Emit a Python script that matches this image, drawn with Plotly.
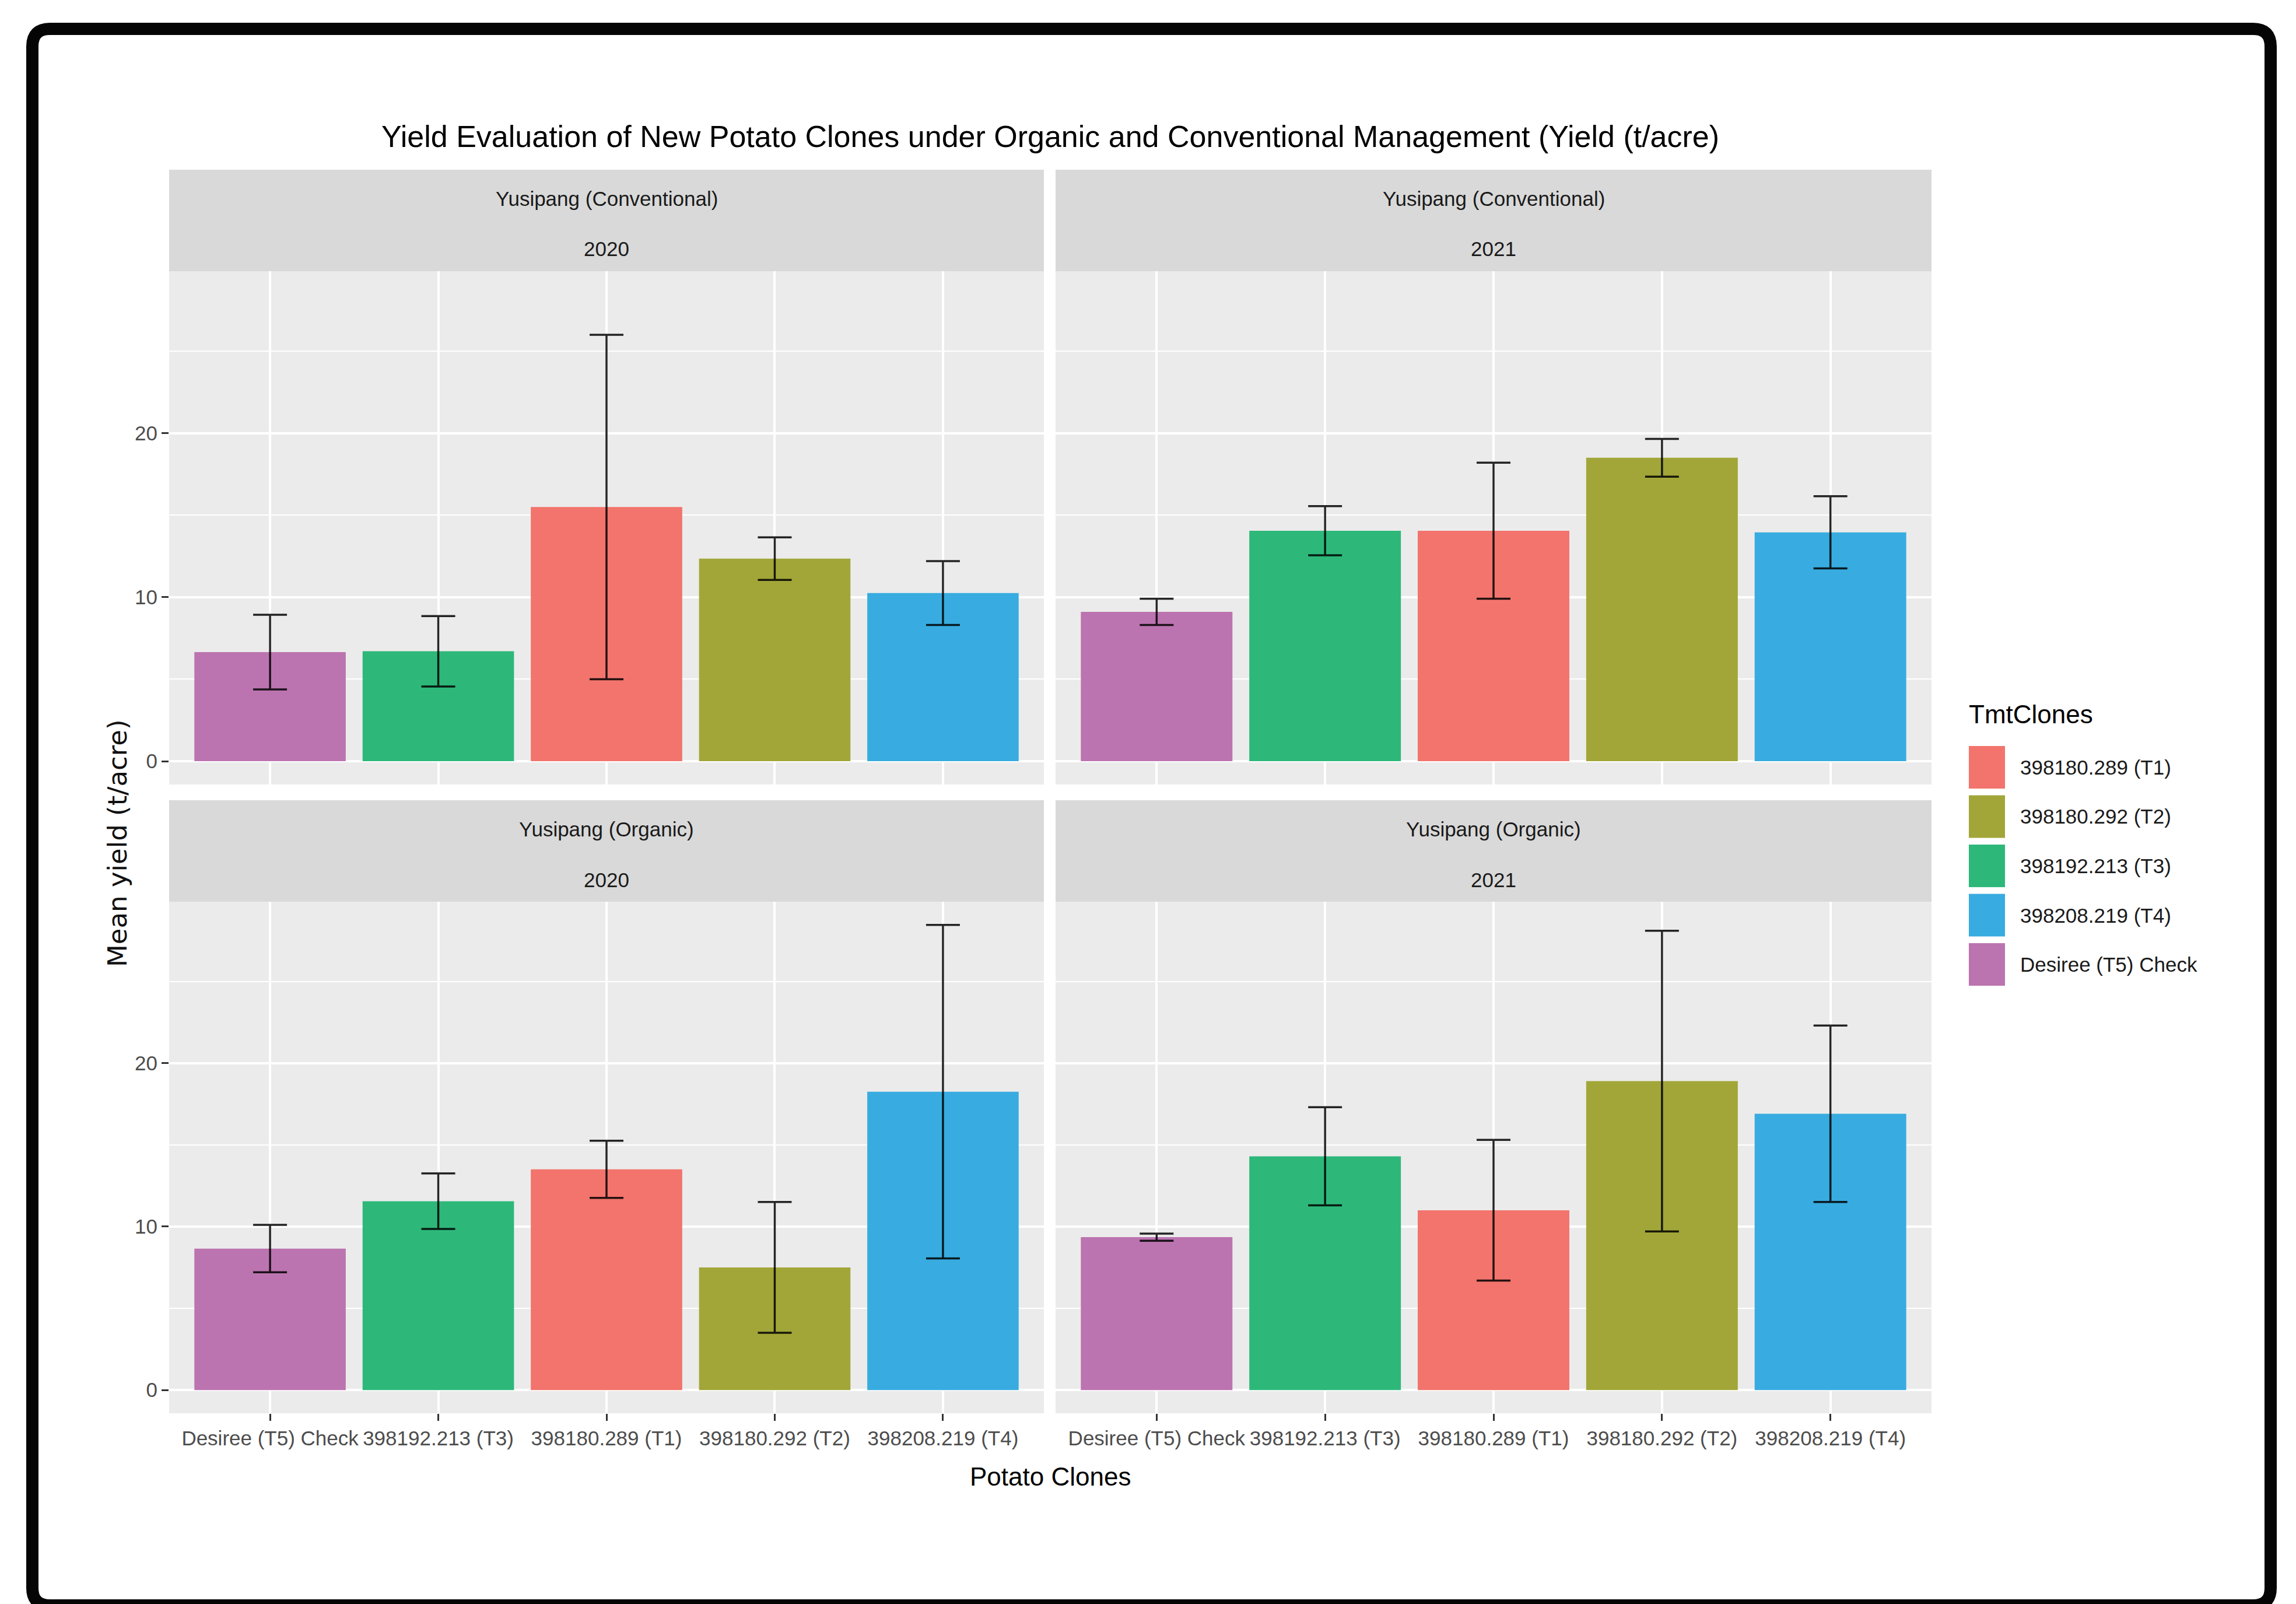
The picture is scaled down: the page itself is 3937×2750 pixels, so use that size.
import plotly.graph_objects as go

# ---- data -------------------------------------------------------------
clones = ["Desiree (T5) Check", "398192.213 (T3)", "398180.289 (T1)",
          "398180.292 (T2)", "398208.219 (T4)"]
legend_order = ["398180.289 (T1)", "398180.292 (T2)", "398192.213 (T3)",
                "398208.219 (T4)", "Desiree (T5) Check"]

panel_sites = ["Yusipang (Conventional)", "Yusipang (Conventional)",
               "Yusipang (Organic)", "Yusipang (Organic)"]
panel_years = ["2020", "2021", "2020", "2021"]

# mean yield (t/acre) and error, in the order of `clones`
conv_2020_mean = [6.65, 6.7, 15.5, 12.35, 10.25]
conv_2020_err = [2.28, 2.15, 10.5, 1.3, 1.95]
conv_2021_mean = [9.1, 14.05, 14.05, 18.5, 13.95]
conv_2021_err = [0.8, 1.5, 4.15, 1.15, 2.2]
org_2020_mean = [8.65, 11.55, 13.5, 7.5, 18.25]
org_2020_err = [1.45, 1.7, 1.75, 4.0, 10.2]
org_2021_mean = [9.35, 14.3, 11.0, 18.9, 16.9]
org_2021_err = [0.22, 3.0, 4.3, 9.2, 5.4]

panel_means = [conv_2020_mean, conv_2021_mean, org_2020_mean, org_2021_mean]
panel_errs = [conv_2020_err, conv_2021_err, org_2020_err, org_2021_err]

# ---- styling ----------------------------------------------------------
clone_colors = {
    "398180.289 (T1)": "#F2746C",
    "398180.292 (T2)": "#A2A638",
    "398192.213 (T3)": "#2DB87A",
    "398208.219 (T4)": "#38ACE0",
    "Desiree (T5) Check": "#BC74B0",
}

W, H = 3937, 2750
FONT = "Liberation Sans, Arial, Helvetica, sans-serif"


def fx(px):
    return px / W


def fy(py):
    return 1 - py / H


# pixel frames of the four panels: (left, right, strip_top, plot_top, plot_bottom)
cols = [(290, 1790), (1810, 3312)]
rows = [(291, 465, 1345), (1372, 1546, 2423)]

# shared y scale with ggplot-style 5% expansion
ymax = max(m + e for ms, es in zip(panel_means, panel_errs) for m, e in zip(ms, es))
pad = 0.05 * ymax
yrange = [-pad, ymax + pad]

fig = go.Figure()
layout_axes = {}
shapes = []
annotations = []

for i in range(4):
    r, c = divmod(i, 2)
    x0, x1 = cols[c]
    s_top, p_top, p_bot = rows[r]
    n = "" if i == 0 else str(i + 1)
    xa, ya = "x" + n, "y" + n

    fig.add_trace(go.Bar(
        x=clones,
        y=panel_means[i],
        width=0.9,
        marker=dict(color=[clone_colors[k] for k in clones], line=dict(width=0)),
        error_y=dict(type="data", array=panel_errs[i], visible=True,
                     color="rgba(0,0,0,0.85)", thickness=3.5, width=29),
        showlegend=False,
        xaxis=xa, yaxis=ya,
        hovertemplate="%{x}<br>%{y:.2f}<extra></extra>",
    ))

    bottom = r == 1
    left = c == 0
    layout_axes["xaxis" + n] = dict(
        domain=[fx(x0), fx(x1)], anchor=ya, type="category",
        categoryorder="array", categoryarray=clones, range=[-0.6, 4.6],
        showgrid=True, gridcolor="white", gridwidth=4,
        zeroline=False, showline=False,
        ticks="outside" if bottom else "", ticklen=12, tickwidth=2.5,
        tickcolor="#333333", showticklabels=bottom,
        tickfont=dict(family=FONT, size=35, color="#4D4D4D"),
        fixedrange=True,
    )
    layout_axes["yaxis" + n] = dict(
        domain=[fy(p_bot), fy(p_top)], anchor=xa, range=yrange,
        tick0=0, dtick=10,
        showgrid=True, gridcolor="white", gridwidth=4,
        minor=dict(dtick=5, tick0=0, showgrid=True, gridcolor="white", gridwidth=2.2),
        zeroline=False, showline=False,
        ticks="outside" if left else "", ticklen=12, tickwidth=2.5,
        tickcolor="#333333", showticklabels=left,
        tickfont=dict(family=FONT, size=35, color="#4D4D4D"),
        fixedrange=True,
    )

    # facet strip
    shapes.append(dict(type="rect", xref="paper", yref="paper",
                       x0=fx(x0), x1=fx(x1), y0=fy(p_top), y1=fy(s_top),
                       fillcolor="#D9D9D9", line=dict(width=0), layer="below"))
    for text, off in ((panel_sites[i], 49), (panel_years[i], 136)):
        annotations.append(dict(text=text, xref="paper", yref="paper",
                                x=fx((x0 + x1) / 2), y=fy(s_top + off),
                                xanchor="center", yanchor="middle", showarrow=False,
                                font=dict(family=FONT, size=35, color="#1A1A1A")))

# plot title and axis titles
annotations.append(dict(
    text="Yield Evaluation of New Potato Clones under Organic and Conventional Management (Yield (t/acre)",
    xref="paper", yref="paper", x=fx(1801), y=fy(234), xanchor="center", yanchor="middle",
    showarrow=False, font=dict(family=FONT, size=52, color="black")))
annotations.append(dict(
    text="Potato Clones", xref="paper", yref="paper", x=fx(1801), y=fy(2531),
    xanchor="center", yanchor="middle", showarrow=False,
    font=dict(family=FONT, size=44, color="black")))
annotations.append(dict(
    text="Mean yield (t/acre)", xref="paper", yref="paper", x=fx(201), y=fy(1446),
    xanchor="center", yanchor="middle", textangle=-90, showarrow=False,
    font=dict(family="DejaVu Sans, sans-serif", size=45, color="#111111")))

# legend drawn as keys + labels
annotations.append(dict(
    text="TmtClones", xref="paper", yref="paper", x=fx(3374), y=fy(1224),
    xanchor="left", yanchor="middle", showarrow=False,
    font=dict(family=FONT, size=44, color="black")))
key_x0, key_x1, key_top, key_h, key_step = 3376, 3438, 1279, 73, 84.5
for j, name in enumerate(legend_order):
    t = key_top + j * key_step
    shapes.append(dict(type="rect", xref="paper", yref="paper",
                       x0=fx(key_x0), x1=fx(key_x1), y0=fy(t + key_h), y1=fy(t),
                       fillcolor=clone_colors[name], line=dict(width=0)))
    annotations.append(dict(text=name, xref="paper", yref="paper",
                            x=fx(3462), y=fy(t + key_h / 2),
                            xanchor="left", yanchor="middle", showarrow=False,
                            font=dict(family=FONT, size=35, color="#1A1A1A")))

# black rounded frame around the whole figure
L, T, R, B, rad = 55.5, 49.5, 3893.5, 2752.5, 30


def pt(x, y):
    return f"{fx(x):.6f},{fy(y):.6f}"


frame = (f"M {pt(L + rad, T)} L {pt(R - rad, T)} Q {pt(R, T)} {pt(R, T + rad)} "
         f"L {pt(R, B - rad)} Q {pt(R, B)} {pt(R - rad, B)} "
         f"L {pt(L + rad, B)} Q {pt(L, B)} {pt(L, B - rad)} "
         f"L {pt(L, T + rad)} Q {pt(L, T)} {pt(L + rad, T)} Z")
shapes.append(dict(type="path", xref="paper", yref="paper", path=frame,
                   line=dict(color="#050505", width=21), fillcolor="rgba(0,0,0,0)"))

fig.update_layout(
    width=W, height=H, margin=dict(l=0, r=0, t=0, b=0),
    paper_bgcolor="white", plot_bgcolor="#EBEBEB",
    showlegend=False, bargap=0.1,
    font=dict(family=FONT, color="#1A1A1A"),
    shapes=shapes, annotations=annotations,
    **layout_axes,
)

fig.write_html("out.html", config=dict(displayModeBar=False))
